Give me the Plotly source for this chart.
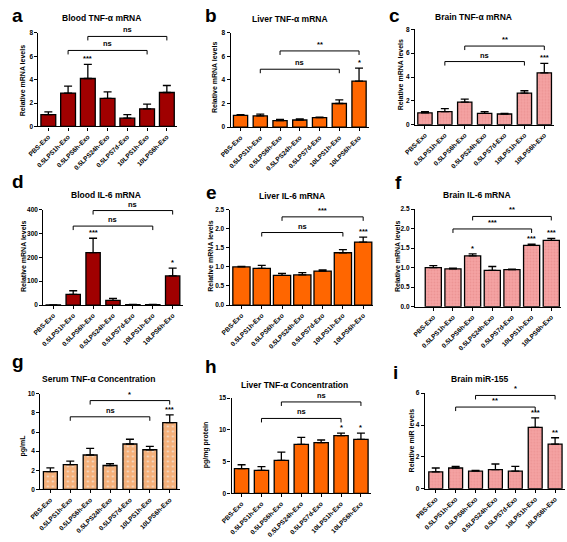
import plotly.graph_objects as go

W, H = 567, 542

categories = ["PBS-Exo", "0.5LPS1h-Exo", "0.5LPS6h-Exo", "0.5LPS24h-Exo",
              "0.5LPS7d-Exo", "10LPS1h-Exo", "10LPS6h-Exo"]

letters = ["a", "b", "c", "d", "e", "f", "g", "h", "i"]
titles = ["Blood TNF-α mRNA", "Liver TNF-α mRNA", "Brain TNF-α mRNA",
          "Blood IL-6 mRNA", "Liver IL-6 mRNA", "Brain IL-6 mRNA",
          "Serum TNF-α Concentration", "Liver TNF-α Concentration", "Brain miR-155"]
ytitles = ["Relative mRNA levels"] * 6 + ["pg/mL", "pg/mg protein", "Relative miR levels"]

vals_a = [1.0, 2.85, 4.1, 2.4, 0.7, 1.5, 2.9]
errs_a = [0.25, 0.6, 1.2, 0.55, 0.3, 0.4, 0.6]
vals_b = [1.0, 0.95, 0.55, 0.6, 0.8, 2.0, 3.9]
errs_b = [0.05, 0.15, 0.1, 0.1, 0.05, 0.3, 1.1]
vals_c = [1.0, 1.1, 1.9, 0.95, 0.9, 2.65, 4.35]
errs_c = [0.1, 0.25, 0.25, 0.15, 0.05, 0.2, 0.8]
vals_d = [0.5, 45, 220, 20, 2, 2, 122]
errs_d = [0, 15, 60, 8, 1, 1, 33]
vals_e = [1.0, 0.96, 0.78, 0.79, 0.89, 1.37, 1.65]
errs_e = [0.01, 0.08, 0.05, 0.06, 0.03, 0.08, 0.13]
vals_f = [1.0, 0.97, 1.3, 0.93, 0.95, 1.57, 1.7]
errs_f = [0.05, 0.02, 0.05, 0.1, 0.01, 0.03, 0.05]
vals_g = [1.85, 2.6, 3.6, 2.5, 4.75, 4.15, 7.0]
errs_g = [0.4, 0.35, 0.7, 0.2, 0.5, 0.35, 0.8]
vals_h = [3.9, 3.6, 5.2, 7.7, 8.0, 9.1, 8.5]
errs_h = [0.6, 0.6, 1.3, 1.1, 0.4, 0.4, 1.0]
vals_i = [1.05, 1.3, 1.1, 1.2, 1.1, 3.85, 2.8]
errs_i = [0.25, 0.1, 0.05, 0.35, 0.3, 0.6, 0.4]

values = [vals_a, vals_b, vals_c, vals_d, vals_e, vals_f, vals_g, vals_h, vals_i]
errors = [errs_a, errs_b, errs_c, errs_d, errs_e, errs_f, errs_g, errs_h, errs_i]

# stars above bars: (bar index, label)
stars = [
    [(2, "***")],
    [(6, "*")],
    [(6, "***")],
    [(2, "***"), (6, "*")],
    [(6, "***")],
    [(2, "*"), (5, "***"), (6, "***")],
    [(6, "***")],
    [(5, "*"), (6, "*")],
    [(5, "***"), (6, "**")],
]
# brackets: (from index, to index, y value, label)
brackets = [
    [(1, 5, 6.5, "ns"), (2, 6, 7.7, "ns")],
    [(1, 5, 4.9, "ns"), (2, 6, 6.45, "**")],
    [(1, 5, 5.3, "ns"), (2, 6, 6.6, "**")],
    [(1, 5, 331, "ns"), (2, 6, 396, "ns")],
    [(1, 5, 1.9, "ns"), (2, 6, 2.31, "***")],
    [(1, 5, 1.99, "***"), (2, 6, 2.31, "**")],
    [(1, 5, 7.6, "ns"), (2, 6, 9.3, "*")],
    [(1, 5, 11.8, "ns"), (2, 6, 14.4, "ns")],
    [(1, 5, 5.13, "**"), (2, 6, 5.86, "*")],
]
yticks = [
    [0, 2, 4, 6, 8], [0, 2, 4, 6, 8], [0, 2, 4, 6, 8],
    [0, 100, 200, 300, 400],
    [0.0, 0.5, 1.0, 1.5, 2.0, 2.5], [0.0, 0.5, 1.0, 1.5, 2.0, 2.5],
    [0, 2, 4, 6, 8, 10], [0, 5, 10, 15], [0, 2, 4, 6],
]
ytexts = [
    None, None, None, None,
    ["0.0", "0.5", "1.0", "1.5", "2.0", "2.5"], ["0.0", "0.5", "1.0", "1.5", "2.0", "2.5"],
    None, None, None,
]

# styles
colors = ["#A00000", "#FF6600", "#F5A3A3", "#A00000", "#FF6600", "#F5A3A3",
          "#F5B07A", "#FF6600", "#F5A3A3"]
patterns = [None, None, ("#EC9494", 3, 0.3), None, None, ("#EC9494", 3, 0.3),
            ("#F3E6DC", 5, 0.12), None, ("#EC9494", 3, 0.3)]
bar_widths = [0.75, 0.72, 0.72, 0.72, 0.85, 0.82, 0.7, 0.72, 0.7]

# layout in pixels: x axis left, x right, y top, y zero, x-range left
boxes = [
    (28, 169, 29.3, 124, -0.5),
    (224, 365, 29, 124.7, -0.5),
    (412, 554, 25.7, 122.3, -0.5),
    (33, 175, 208.3, 305, -0.5),
    (223, 369.5, 208.3, 305, -0.58),
    (412, 561, 207.7, 306.7, -0.93),
    (30, 172, 395, 491.7, -0.5),
    (225, 367, 399.3, 495.7, -0.5),
    (422, 565, 394.3, 491, -0.55),
]
title_pos = [(92, 14), (285, 15.5), (472, 13), (97, 194), (287, 195), (475, 194),
             (89, 380), (289, 386), (478, 380)]
letter_pos = [(7, 12), (204, 12), (391, 12), (7, 180), (204, 191), (395, 181),
              (7, 362), (204, 367), (392, 373)]
ytitle_pos = [(12.5, 78), (207, 74), (397, 72), (12.5, 256), (204, 256), (394, 256),
              (12.5, 447), (199, 447), (408, 442)]

FONT = "Liberation Sans"

fig = go.Figure()
layout = dict(width=W, height=H, margin=dict(l=0, r=0, t=0, b=0),
              paper_bgcolor="white", plot_bgcolor="white", showlegend=False,
              bargap=0.2)
annotations = []
shapes = []

for k in range(9):
    n = "" if k == 0 else str(k + 1)
    xa, ya = "x" + n, "y" + n
    x0, x1, yt, yz, xr = boxes[k]
    top = yticks[k][-1]
    marker = dict(color=colors[k], line=dict(color="black", width=1.3))
    if patterns[k]:
        fg, sz, sol = patterns[k]
        marker["pattern"] = dict(shape=".", fgcolor=fg, bgcolor=colors[k],
                                 size=sz, solidity=sol, fillmode="replace")
    fig.add_trace(go.Bar(
        x=list(range(7)), y=values[k], xaxis=xa, yaxis=ya, width=bar_widths[k],
        marker=marker,
        error_y=dict(type="data", array=errors[k], arrayminus=[0] * 7,
                     symmetric=False, color="black", thickness=1.3, width=4),
    ))
    layout["xaxis" + n] = dict(
        domain=[x0 / W, x1 / W], anchor=ya, range=[xr, 6.5],
        tickmode="array", tickvals=list(range(7)), ticktext=categories,
        tickangle=-45, ticks="outside", ticklen=3, tickwidth=1.2, tickcolor="black",
        showline=True, linecolor="black", linewidth=1.3, showgrid=False, zeroline=False,
        tickfont=dict(family=FONT, size=6.5, color="black", weight="bold"),
    )
    yax = dict(
        domain=[1 - yz / H, 1 - yt / H], anchor=xa, range=[0, top],
        tickmode="array", tickvals=yticks[k],
        ticks="outside", ticklen=3, tickwidth=1.2, tickcolor="black",
        showline=True, linecolor="black", linewidth=1.3, showgrid=False, zeroline=False,
        tickfont=dict(family=FONT, size=6.5, color="black", weight="bold"),
    )
    if ytexts[k]:
        yax["ticktext"] = ytexts[k]
    layout["yaxis" + n] = yax

    # titles and letters
    tx, ty = title_pos[k]
    annotations.append(dict(x=tx / W, y=1 - ty / H, xref="paper", yref="paper",
                            text=titles[k], showarrow=False,
                            font=dict(family=FONT, size=8.5, color="black", weight="bold"),
                            xanchor="center", yanchor="middle"))
    lx, ly = letter_pos[k]
    annotations.append(dict(x=lx / W, y=1 - ly / H, xref="paper", yref="paper",
                            text=letters[k], showarrow=False,
                            font=dict(family=FONT, size=19, color="black", weight="bold"),
                            xanchor="center", yanchor="middle"))
    yx, yy = ytitle_pos[k]
    annotations.append(dict(x=yx / W, y=1 - yy / H, xref="paper", yref="paper",
                            text=ytitles[k], showarrow=False, textangle=-90,
                            font=dict(family=FONT, size=7, color="black", weight="bold"),
                            xanchor="center", yanchor="middle"))
    # stars
    for idx, lab in stars[k]:
        annotations.append(dict(x=idx, y=values[k][idx] + errors[k][idx], xref=xa, yref=ya,
                                text=lab, showarrow=False, yanchor="bottom", yshift=-1,
                                font=dict(family=FONT, size=7.5, color="black", weight="bold")))
    # brackets
    for i0, i1, yv, lab in brackets[k]:
        shapes.append(dict(type="line", xref=xa, yref=ya, x0=i0, x1=i1, y0=yv, y1=yv,
                           line=dict(color="black", width=1)))
        for xi in (i0, i1):
            shapes.append(dict(type="line", xref=xa, yref=ya, x0=xi, x1=xi,
                               ysizemode="pixel", yanchor=yv, y0=0, y1=-4,
                               line=dict(color="black", width=1)))
        annotations.append(dict(x=(i0 + i1) / 2, y=yv, xref=xa, yref=ya, text=lab,
                                showarrow=False, yanchor="bottom", yshift=0,
                                font=dict(family=FONT, size=7.5, color="black", weight="bold")))

layout["annotations"] = annotations
layout["shapes"] = shapes
fig.update_layout(**layout)
fig.write_html("out.html", config={"displayModeBar": False},
               post_script="document.body.style.margin='0';document.body.style.overflow='hidden';")
